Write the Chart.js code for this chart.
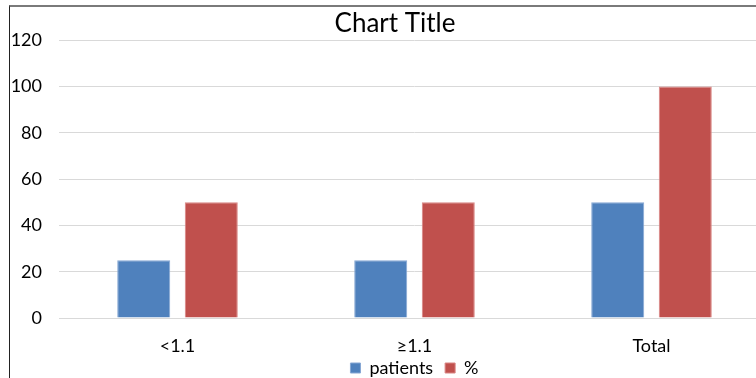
<!DOCTYPE html>
<html>
<head>
<meta charset="utf-8">
<script src="https://cdn.jsdelivr.net/npm/chart.js@4/dist/chart.umd.min.js"></script>
<style>
  html, body { margin: 0; padding: 0; background: #fff; overflow: hidden; }
  #wrap { position: relative; width: 756px; height: 378px; overflow: hidden; }
  #frame { position: absolute; left: 9px; top: 5px; width: 800px; height: 400px;
           border-top: 2px solid #7a7a7a; border-left: 1px solid #222; box-sizing: border-box; pointer-events: none; }
  #box { position: absolute; left: 0; top: 0; width: 792px; height: 378px; }
</style>
</head>
<body>
<div id="wrap">
  <div id="box"><canvas id="c" width="792" height="378"></canvas></div>
  <div id="frame"></div>
</div>
<script>
const categories = ['<1.1', '\u22651.1', 'Total'];
const patients = [25, 25, 50];
const percent = [50, 50, 100];
const yTicks = [0, 20, 40, 60, 80, 100, 120];

const FONT = 'Lato, "Noto Sans", sans-serif';

new Chart(document.getElementById('c'), {
  type: 'bar',
  data: {
    labels: categories,
    datasets: [
      { label: 'patients', data: patients, backgroundColor: '#4F81BD', borderColor: '#86A7D4', borderWidth: 1,
        categoryPercentage: 0.57, barPercentage: 0.785 },
      { label: '%', data: percent, backgroundColor: '#C0504D', borderColor: '#D98583', borderWidth: 1,
        categoryPercentage: 0.57, barPercentage: 0.785 }
    ]
  },
  options: {
    responsive: false,
    animation: false,
    devicePixelRatio: 1,
    layout: { padding: { left: 9, right: 11, top: 8, bottom: -9 } },
    plugins: {
      title: {
        display: true, text: 'Chart Title', color: '#000',
        font: { family: FONT, size: 26, weight: 'normal' },
        padding: { top: 0, bottom: 1 }
      },
      legend: {
        position: 'bottom',
        fullSize: false,
        labels: {
          color: '#000', boxWidth: 10, boxHeight: 10, padding: 12,
          font: { family: FONT, size: 18 }
        }
      },
      tooltip: { enabled: false }
    },
    scales: {
      x: {
        // labels are placed by a negative mirrored padding so they may hang below the axis box
        afterFit: (s) => { s.height = 29; },
        grid: { display: false, drawTicks: false },
        border: { display: true, color: '#d9d9d9', width: 1 },
        ticks: { color: '#000', mirror: true, padding: -39, font: { family: FONT, size: 18 } }
      },
      y: {
        min: 0, max: 120,
        afterBuildTicks: (s) => { s.ticks = yTicks.map(v => ({ value: v })); },
        afterFit: (s) => { s.width = 50; },
        grid: { color: '#d9d9d9', lineWidth: 1, drawTicks: false },
        border: { display: false },
        ticks: { color: '#000', padding: 17, font: { family: FONT, size: 18 } }
      },
      // empty spacer on the right so the frame is balanced around the title
      yRight: {
        position: 'right',
        afterFit: (s) => { s.width = 11; },
        grid: { display: false, drawTicks: false },
        border: { display: false },
        ticks: { display: false }
      }
    }
  }
});
</script>
</body>
</html>
